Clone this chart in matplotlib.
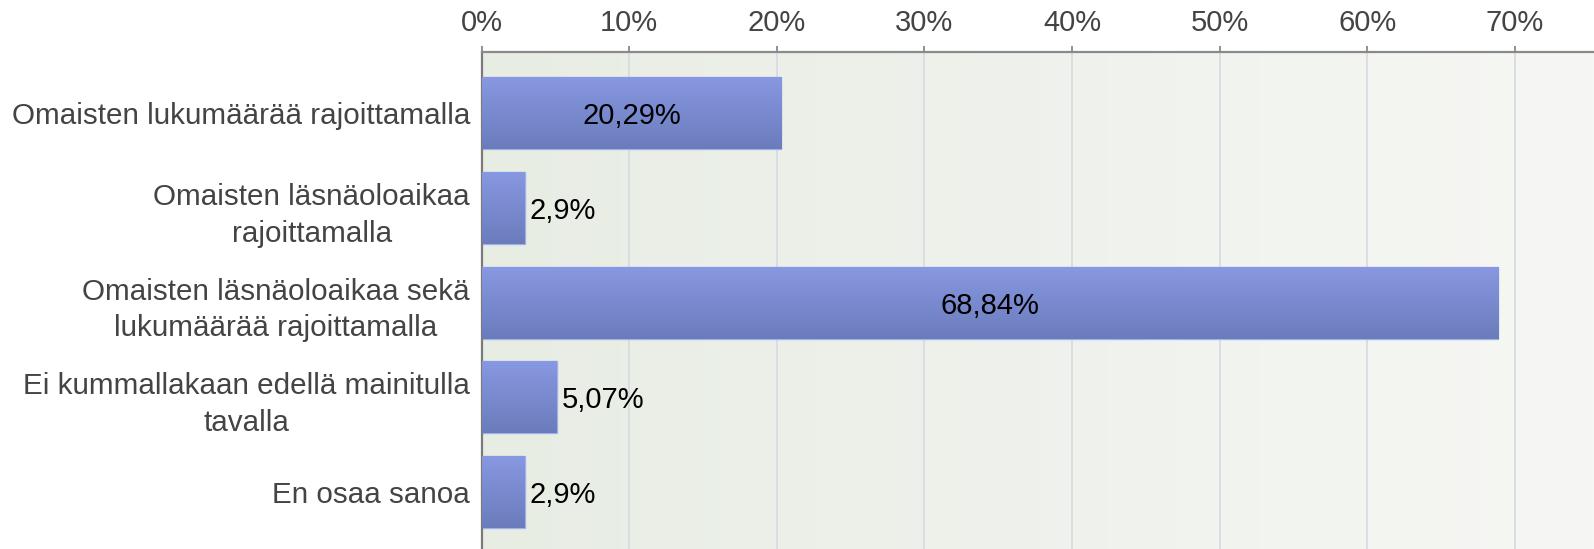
import numpy as np
import matplotlib.pyplot as plt
from matplotlib.colors import LinearSegmentedColormap

# Data
categories = [
    "Omaisten lukumäärää rajoittamalla",
    "Omaisten läsnäoloaikaa\nrajoittamalla",
    "Omaisten läsnäoloaikaa sekä\nlukumäärää rajoittamalla",
    "Ei kummallakaan edellä mainitulla\ntavalla",
    "En osaa sanoa",
]
values = [20.29, 2.9, 68.84, 5.07, 2.9]
labels = ["20,29%", "2,9%", "68,84%", "5,07%", "2,9%"]
ticks = [0, 10, 20, 30, 40, 50, 60, 70]

plt.rcParams['font.family'] = ['Liberation Sans', 'DejaVu Sans']

fig = plt.figure(figsize=(15.94, 5.49), dpi=100)
ax = fig.add_axes([0.3022, 0.0, 0.6978, 0.9053])

xmax = 75.36
y = np.arange(len(categories))

# background gradient (left greener, right lighter)
bg = LinearSegmentedColormap.from_list("bg", ["#e8ede4", "#f6f7f4"])
ax.imshow(np.linspace(0, 1, 256).reshape(1, -1), cmap=bg, aspect='auto',
          extent=(0, xmax, 4.60, -0.644), zorder=0)

for t in ticks[1:]:
    ax.axvline(t, color="#d8dbe2", lw=1.3, zorder=1)

# bars with vertical gradient
bar_cmap = LinearSegmentedColormap.from_list("bar", ["#8898e2", "#6b7cbc"])
bars = ax.barh(y, values, height=0.76, color="#7a8ad0", edgecolor="#a3b1ea",
               linewidth=1.0, zorder=2)
for b in bars:
    x0, y0 = b.get_x(), b.get_y()
    w, h = b.get_width(), b.get_height()
    im = ax.imshow(np.linspace(0, 1, 256).reshape(-1, 1), cmap=bar_cmap,
                   aspect='auto', extent=(x0, x0 + w, y0 + h, y0), zorder=3)
    im.set_clip_path(b)

for yi, v, lab in zip(y, values, labels):
    if v > 10:
        ax.text(v / 2, yi, lab, ha="center", va="center_baseline", fontsize=21,
                color="black", zorder=5)
    else:
        ax.text(v + 0.35, yi, lab, ha="left", va="center_baseline", fontsize=21,
                color="black", zorder=5)

ax.set_xlim(0, xmax)
ax.set_ylim(4.60, -0.644)

ax.xaxis.tick_top()
ax.set_xticks(ticks)
ax.set_xticklabels([f"{t}%" for t in ticks])
ax.tick_params(axis='x', length=4, width=1.3, color="#888888", pad=7,
               labelsize=21, labelcolor="#444444")
ax.set_yticks(y)
ax.set_yticklabels(categories, fontsize=21.3, color="#444444",
                   multialignment="center", linespacing=1.4)
ax.tick_params(axis='y', length=0, pad=8.5)

for s in ["right", "bottom"]:
    ax.spines[s].set_visible(False)
ax.spines["top"].set_color("#8a8a8a")
ax.spines["top"].set_linewidth(1.6)
ax.spines["left"].set_color("#7a7a7a")
ax.spines["left"].set_linewidth(1.6)

fig.savefig("out.png", dpi=100, facecolor="white")
